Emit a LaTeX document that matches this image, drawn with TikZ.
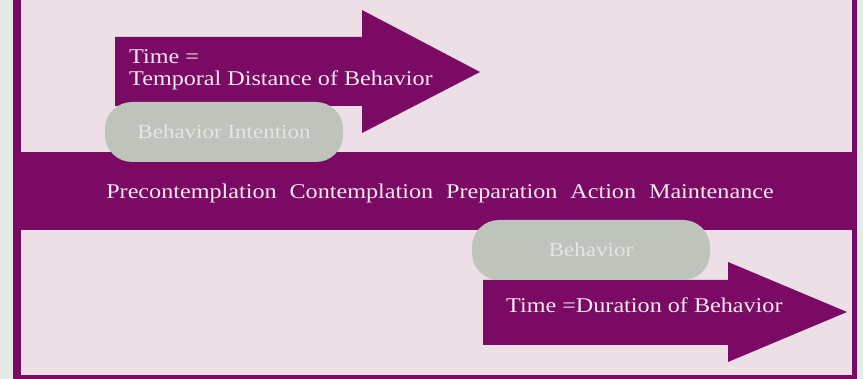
\documentclass[tikz,border=0pt]{standalone}
\usepackage{fontspec}
\setmainfont{Liberation Serif}
\definecolor{purp}{RGB}{122,10,100}
\definecolor{bgpink}{RGB}{236,223,229}
\definecolor{strip}{RGB}{228,234,230}
\definecolor{pillgray}{RGB}{190,196,188}
\definecolor{pilltext}{RGB}{228,230,224}
\definecolor{lighttext}{RGB}{246,232,242}
\newcommand{\wide}[1]{\scalebox{1.15}[1]{#1}}
\tikzset{
  bigarrow/.style={fill=purp},
  pill/.style={fill=pillgray, rounded corners=27pt, minimum width=238pt, minimum height=60pt, inner sep=0pt, text=pilltext, font=\fontsize{20}{22}\selectfont},
  arrowtext/.style={text=lighttext, inner sep=0pt, font=\fontsize{21}{22}\selectfont},
}
\begin{document}
\begin{tikzpicture}[x=1pt,y=-1pt]
\useasboundingbox (0,0) rectangle (863,379);
% background and frame
\fill[strip] (0,0) rectangle (863,379);
\fill[bgpink] (13,0) rectangle (857,379);
\fill[purp] (13,0) rectangle (21,379);
\fill[purp] (852,0) rectangle (857,379);
\fill[purp] (13,375) rectangle (857,379);
% central band
\fill[purp] (13,152) rectangle (857,230);
\node[arrowtext] (stages) at (440,193) {\wide{Precontemplation\hspace{6pt} Contemplation\hspace{6pt} Preparation\hspace{6pt} Action\hspace{6pt} Maintenance}};
% upper arrow
\fill[bigarrow] (115,37) -- (362,37) -- (362,10) -- (480,72) -- (362,133) -- (362,106) -- (115,106) -- cycle;
\node[arrowtext, anchor=north west, align=left] (dist) at (129,49) {\wide{Time =}\\\wide{Temporal Distance of Behavior}};
\node[pill] (intent) at (224,132) {\wide{Behavior Intention}};
% lower arrow
\fill[bigarrow] (483,280) -- (728,280) -- (728,262) -- (847,312) -- (728,362) -- (728,345) -- (483,345) -- cycle;
\node[pill] (behav) at (591,250) {\wide{Behavior}};
\node[arrowtext, anchor=west] (dur) at (506,305) {\wide{Time =Duration of Behavior}};
\end{tikzpicture}
\end{document}
